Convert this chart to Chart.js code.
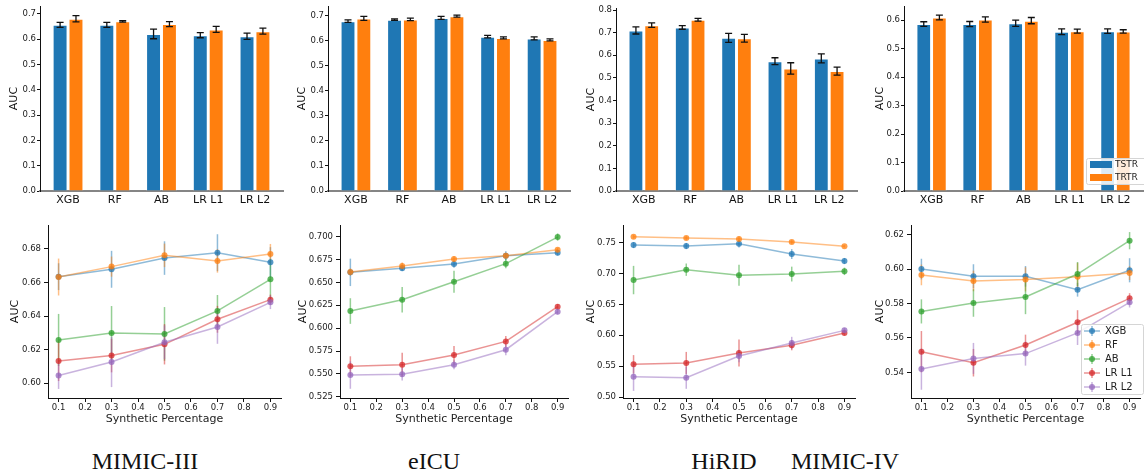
<!DOCTYPE html>
<html>
<head>
<meta charset="utf-8">
<title>TSTR / TRTR AUC</title>
<script src="https://cdn.jsdelivr.net/npm/chart.js@4.4.1/dist/chart.umd.min.js"></script>
<style>
  html, body { margin: 0; padding: 0; background: #fff; }
  #fig { position: relative; width: 1144px; height: 471px; overflow: hidden; }
  #fig canvas { position: absolute; }
  .dsname { position: absolute; top: 449px; font-family: 'Liberation Serif', 'Times New Roman', serif;
            font-size: 24px; line-height: 1; color: #111; transform: translateX(-50%); white-space: nowrap; }
</style>
</head>
<body>
<div id="fig"></div>
<script>
// categories
const models = ['XGB', 'RF', 'AB', 'LR L1', 'LR L2'];
const barGroups = ['TSTR', 'TRTR'];
const synthPct = [0.1, 0.3, 0.5, 0.7, 0.9];
const datasetNames = ['MIMIC-III', 'eICU', 'HiRID', 'MIMIC-IV'];

// top row: AUC per model, rows = TSTR, TRTR
const barMimic3 = [[0.656, 0.656, 0.620, 0.615, 0.611], [0.680, 0.670, 0.659, 0.638, 0.631]];
const barErrMimic3 = [[0.010, 0.010, 0.019, 0.010, 0.012], [0.012, 0.003, 0.010, 0.012, 0.012]];
const barEicu = [[0.677, 0.683, 0.690, 0.615, 0.608], [0.688, 0.684, 0.697, 0.610, 0.602]];
const barErrEicu = [[0.005, 0.003, 0.006, 0.005, 0.006], [0.008, 0.005, 0.004, 0.004, 0.004]];
const barHirid = [[0.710, 0.723, 0.677, 0.574, 0.586], [0.733, 0.757, 0.675, 0.542, 0.530]];
const barErrHirid = [[0.016, 0.008, 0.020, 0.015, 0.020], [0.010, 0.006, 0.017, 0.025, 0.018]];
const barMimic4 = [[0.586, 0.586, 0.589, 0.559, 0.561], [0.609, 0.602, 0.598, 0.561, 0.560]];
const barErrMimic4 = [[0.008, 0.009, 0.011, 0.010, 0.008], [0.008, 0.009, 0.011, 0.007, 0.006]];

// bottom row: AUC vs synthetic percentage, rows = XGB, RF, AB, LR L1, LR L2
const lineMimic3 = [
  [0.6635, 0.6679, 0.6746, 0.6778, 0.6721],
  [0.6633, 0.6695, 0.6762, 0.6729, 0.6770],
  [0.6258, 0.6300, 0.6294, 0.6431, 0.6619],
  [0.6133, 0.6165, 0.6232, 0.6381, 0.6498],
  [0.6046, 0.6127, 0.6244, 0.6335, 0.6482]];
const lineErrMimic3 = [
  [0.008, 0.011, 0.010, 0.011, 0.009],
  [0.011, 0.006, 0.007, 0.007, 0.006],
  [0.0155, 0.016, 0.016, 0.0095, 0.012],
  [0.012, 0.010, 0.012, 0.008, 0.003],
  [0.008, 0.015, 0.010, 0.010, 0.004]];
const lineEicu = [
  [0.6610, 0.6654, 0.6701, 0.6792, 0.6825],
  [0.6614, 0.6679, 0.6756, 0.6792, 0.6858],
  [0.6187, 0.6311, 0.6508, 0.6705, 0.6996],
  [0.5582, 0.5600, 0.5706, 0.5855, 0.6234],
  [0.5487, 0.5497, 0.5600, 0.5764, 0.6180]];
const lineErrEicu = [
  [0.015, 0.003, 0.004, 0.005, 0.003],
  [0.004, 0.004, 0.003, 0.003, 0.002],
  [0.014, 0.014, 0.012, 0.005, 0.004],
  [0.011, 0.013, 0.010, 0.006, 0.003],
  [0.015, 0.007, 0.005, 0.006, 0.003]];
const lineHirid = [
  [0.7462, 0.7446, 0.7484, 0.7316, 0.7203],
  [0.7597, 0.7576, 0.7559, 0.7511, 0.7441],
  [0.6895, 0.7063, 0.6971, 0.6992, 0.7036],
  [0.5529, 0.5551, 0.5713, 0.5837, 0.6037],
  [0.5329, 0.5313, 0.5664, 0.5875, 0.6080]];
const lineErrHirid = [
  [0.005, 0.005, 0.006, 0.008, 0.005],
  [0.003, 0.003, 0.004, 0.003, 0.002],
  [0.023, 0.010, 0.017, 0.012, 0.006],
  [0.015, 0.018, 0.022, 0.008, 0.004],
  [0.023, 0.018, 0.010, 0.010, 0.004]];
const lineMimic4 = [
  [0.6000, 0.5958, 0.5958, 0.5880, 0.5993],
  [0.5966, 0.5931, 0.5940, 0.5956, 0.5977],
  [0.5754, 0.5803, 0.5838, 0.5971, 0.6165],
  [0.5520, 0.5456, 0.5559, 0.5691, 0.5830],
  [0.5419, 0.5481, 0.5509, 0.5629, 0.5807]];
const lineErrMimic4 = [
  [0.006, 0.007, 0.006, 0.004, 0.007],
  [0.006, 0.006, 0.007, 0.008, 0.004],
  [0.007, 0.008, 0.010, 0.007, 0.005],
  [0.012, 0.008, 0.006, 0.007, 0.003],
  [0.012, 0.009, 0.007, 0.007, 0.003]];

// tick labels
const barTicks6 = [0, 0.1, 0.2, 0.3, 0.4, 0.5, 0.6];
const barTicks7 = [0, 0.1, 0.2, 0.3, 0.4, 0.5, 0.6, 0.7];
const barTicks8 = [0, 0.1, 0.2, 0.3, 0.4, 0.5, 0.6, 0.7, 0.8];
const pctTicks = [0.1, 0.2, 0.3, 0.4, 0.5, 0.6, 0.7, 0.8, 0.9];
const lineTicksMimic3 = [0.60, 0.62, 0.64, 0.66, 0.68];
const lineTicksEicu = [0.525, 0.550, 0.575, 0.600, 0.625, 0.650, 0.675, 0.700];
const lineTicksHirid = [0.50, 0.55, 0.60, 0.65, 0.70, 0.75];
const lineTicksMimic4 = [0.54, 0.56, 0.58, 0.60, 0.62];

const groupColors = ['#1f77b4', '#ff7f0e'];
const modelColors = ['#1f77b4', '#ff7f0e', '#2ca02c', '#d62728', '#9467bd'];

Chart.defaults.font.family = "'DejaVu Sans', sans-serif";
Chart.defaults.color = '#222';

function rgba(hex, a) {
  const n = parseInt(hex.slice(1), 16);
  return `rgba(${n >> 16},${(n >> 8) & 255},${n & 255},${a})`;
}

// error bars drawn through the y scale
function drawErrors(chart, o) {
  const ctx = chart.ctx, ys = chart.scales.y;
  ctx.save();
  chart.data.datasets.forEach((ds, di) => {
    if (!ds.errors) return;
    chart.getDatasetMeta(di).data.forEach((el, i) => {
      const v = ds.data[i].y, e = ds.errors[i];
      const y1 = ys.getPixelForValue(v - e), y2 = ys.getPixelForValue(v + e);
      ctx.strokeStyle = o.color || ds.errColor;
      ctx.lineWidth = o.width;
      ctx.beginPath();
      ctx.moveTo(el.x, y1); ctx.lineTo(el.x, y2);
      if (o.cap) {
        ctx.moveTo(el.x - o.cap, y1); ctx.lineTo(el.x + o.cap, y1);
        ctx.moveTo(el.x - o.cap, y2); ctx.lineTo(el.x + o.cap, y2);
      }
      ctx.stroke();
    });
  });
  ctx.restore();
}
const errorBars = {
  id: 'errorBars',
  beforeDatasetsDraw(chart, args, o) { if (o.under) drawErrors(chart, o); },
  afterDatasetsDraw(chart, args, o) { if (!o.under) drawErrors(chart, o); }
};

// matplotlib-like legend box inside the axes
const boxLegend = {
  id: 'boxLegend',
  afterDraw(chart, args, o) {
    if (!o.items) return;
    const { ctx, chartArea } = chart;
    const h = o.rowH * o.items.length;
    const x = chartArea.right - o.offsetRight;
    const y = chartArea.bottom - o.offsetBottom - h;
    ctx.save();
    ctx.fillStyle = 'rgba(255,255,255,0.85)';
    ctx.strokeStyle = '#d5d5d5';
    ctx.lineWidth = 1;
    ctx.beginPath();
    if (ctx.roundRect) ctx.roundRect(x + 0.5, y + 0.5, o.width, h, 2); else ctx.rect(x + 0.5, y + 0.5, o.width, h);
    ctx.fill(); ctx.stroke();
    ctx.font = `${o.fontSize}px 'DejaVu Sans'`;
    ctx.textBaseline = 'middle';
    o.items.forEach((it, i) => {
      const cy = y + o.rowH * (i + 0.5);
      if (o.kind === 'patch') {
        ctx.fillStyle = it.color;
        ctx.fillRect(x + 4, cy - 3.5, 22, 7);
      } else {
        ctx.strokeStyle = rgba(it.color, 0.5);
        ctx.lineWidth = 1.5;
        ctx.beginPath();
        ctx.moveTo(x + 3, cy); ctx.lineTo(x + 19, cy);
        ctx.moveTo(x + 11, cy - 5); ctx.lineTo(x + 11, cy + 5);
        ctx.stroke();
        ctx.fillStyle = rgba(it.color, 0.75);
        ctx.beginPath(); ctx.arc(x + 11, cy, 3, 0, Math.PI * 2); ctx.fill();
      }
      ctx.fillStyle = '#222';
      ctx.fillText(it.label, x + o.textX, cy + 0.5);
    });
    ctx.restore();
  }
};

const fig = document.getElementById('fig');

function makeCanvas(area, yw, top, height) {
  const c = document.createElement('canvas');
  const left = area.l - yw;
  const right = Math.min(area.r + 2, 1144);
  c.width = right - left; c.height = height;
  c.style.left = left + 'px'; c.style.top = top + 'px';
  c.style.width = c.width + 'px'; c.style.height = height + 'px';
  fig.appendChild(c);
  return { canvas: c, padding: { left: 0, top: area.t - top, right: right - area.r, bottom: 0 }, left };
}

function fixTicks(values) {
  return axis => { axis.ticks = values.map(v => ({ value: v })); };
}

// --- top row: TSTR vs TRTR bars ---
const barPanels = [
  { bars: barMimic3, errs: barErrMimic3, ticks: barTicks7, max: 0.730, area: { l: 40, r: 283, t: 5 }, titleX: 14 },
  { bars: barEicu, errs: barErrEicu, ticks: barTicks7, max: 0.737, area: { l: 328, r: 570, t: 6 }, titleX: 302 },
  { bars: barHirid, errs: barErrHirid, ticks: barTicks8, max: 0.809, area: { l: 616, r: 857, t: 8 }, titleX: 591 },
  { bars: barMimic4, errs: barErrMimic4, ticks: barTicks6, max: 0.649, area: { l: 904, r: 1143, t: 6 }, titleX: 880, legend: true }
];

barPanels.forEach(p => {
  const yw = 40, xh = 24;
  const { canvas, padding, left } = makeCanvas(p.area, yw, 0, 215);
  new Chart(canvas, {
    type: 'bar',
    data: {
      datasets: barGroups.map((g, k) => ({
        label: g,
        data: models.map((m, i) => ({ x: i, y: p.bars[k][i] })),
        errors: p.errs[k],
        backgroundColor: groupColors[k],
        borderColor: 'rgba(255,255,255,0.55)',
        borderWidth: 1,
        barPercentage: 0.94,
        categoryPercentage: 0.68
      }))
    },
    options: {
      responsive: false, animation: false, events: [],
      layout: { padding },
      plugins: {
        legend: { display: false }, tooltip: { enabled: false },
        errorBars: { color: '#111', width: 1.3, cap: 3.5 },
        boxLegend: p.legend ? {
          kind: 'patch', fontSize: 9, rowH: 13, width: 62, offsetRight: 57, offsetBottom: 7, textX: 29,
          items: barGroups.map((g, k) => ({ label: g, color: groupColors[k] }))
        } : {}
      },
      scales: {
        x: {
          type: 'linear', min: -0.6, max: 4.6, offset: false,
          afterBuildTicks: fixTicks(models.map((m, i) => i)),
          afterFit: s => { s.height = xh; },
          grid: { display: true, drawOnChartArea: false, drawTicks: false, offset: false },
          border: { display: true, color: '#858585', width: 2 },
          ticks: { autoSkip: false, maxRotation: 0, padding: 3, color: '#111', font: { size: 11 }, callback: v => models[v] }
        },
        y: {
          min: 0, max: p.max,
          afterBuildTicks: fixTicks(p.ticks),
          afterFit: s => { s.width = yw; },
          grid: { drawOnChartArea: false, drawTicks: true, tickLength: 3, color: '#111' },
          border: { display: true, color: '#111', width: 1 },
          ticks: { padding: 1, color: '#222', font: { size: 8.5 }, callback: v => v.toFixed(1) },
          title: { display: true, text: 'AUC', color: '#111', font: { size: 11 }, padding: { top: p.titleX - left - 6.6, bottom: 0 } }
        }
      }
    },
    plugins: [errorBars, boxLegend]
  });
});

// --- bottom row: AUC vs synthetic percentage ---
const linePanels = [
  { rows: lineMimic3, errs: lineErrMimic3, ticks: lineTicksMimic3, min: 0.5912, max: 0.6943, dec: 2, area: { l: 48, r: 283, t: 225 }, titleX: 15 },
  { rows: lineEicu, errs: lineErrEicu, ticks: lineTicksEicu, min: 0.5236, max: 0.7128, dec: 3, area: { l: 340, r: 570, t: 225 }, titleX: 303 },
  { rows: lineHirid, errs: lineErrHirid, ticks: lineTicksHirid, min: 0.4984, max: 0.7787, dec: 2, area: { l: 623, r: 857, t: 225 }, titleX: 591 },
  { rows: lineMimic4, errs: lineErrMimic4, ticks: lineTicksMimic4, min: 0.5251, max: 0.6256, dec: 2, area: { l: 911, r: 1143, t: 225 }, titleX: 880, legend: true }
];

linePanels.forEach(p => {
  const yw = 48, xh = 33;
  const { canvas, padding, left } = makeCanvas(p.area, yw, 215, 216);
  new Chart(canvas, {
    type: 'line',
    data: {
      datasets: models.map((m, k) => ({
        label: m,
        data: synthPct.map((x, i) => ({ x, y: p.rows[k][i] })),
        errors: p.errs[k],
        errColor: rgba(modelColors[k], 0.5),
        borderColor: rgba(modelColors[k], 0.5),
        borderWidth: 1.5,
        pointRadius: 3,
        pointBorderWidth: 0,
        pointBackgroundColor: rgba(modelColors[k], 0.75),
        tension: 0,
        order: -k
      }))
    },
    options: {
      responsive: false, animation: false, events: [],
      layout: { padding },
      plugins: {
        legend: { display: false }, tooltip: { enabled: false },
        errorBars: { width: 1.5, cap: 0, under: true },
        boxLegend: p.legend ? {
          kind: 'line', fontSize: 10, rowH: 14, width: 62, offsetRight: 59, offsetBottom: 4, textX: 24,
          items: models.map((m, k) => ({ label: m, color: modelColors[k] }))
        } : {}
      },
      scales: {
        x: {
          type: 'linear', min: 0.06, max: 0.94,
          afterBuildTicks: fixTicks(pctTicks),
          afterFit: s => { s.height = xh; },
          grid: { drawOnChartArea: false, drawTicks: true, tickLength: 4, color: '#111' },
          border: { display: true, color: '#111', width: 1 },
          ticks: { autoSkip: false, maxRotation: 0, padding: 1, color: '#222', font: { size: 8.5 }, callback: v => v.toFixed(1) },
          title: { display: true, text: 'Synthetic Percentage', color: '#222', font: { size: 11 }, padding: { top: 0, bottom: 5.4 } }
        },
        y: {
          min: p.min, max: p.max,
          afterBuildTicks: fixTicks(p.ticks),
          afterFit: s => { s.width = yw; },
          grid: { drawOnChartArea: false, drawTicks: true, tickLength: 4, color: '#111' },
          border: { display: true, color: '#111', width: 1 },
          ticks: { padding: 3, color: '#222', font: { size: 8.5 }, callback: v => v.toFixed(p.dec) },
          title: { display: true, text: 'AUC', color: '#111', font: { size: 11 }, padding: { top: p.titleX - left - 6.6, bottom: 0 } }
        }
      }
    },
    plugins: [errorBars, boxLegend]
  });
});

// dataset names under each column
const nameCenters = [145, 434, 724, 845];
datasetNames.forEach((n, i) => {
  const d = document.createElement('div');
  d.className = 'dsname';
  d.style.left = nameCenters[i] + 'px';
  d.textContent = n;
  fig.appendChild(d);
});
</script>
</body>
</html>
